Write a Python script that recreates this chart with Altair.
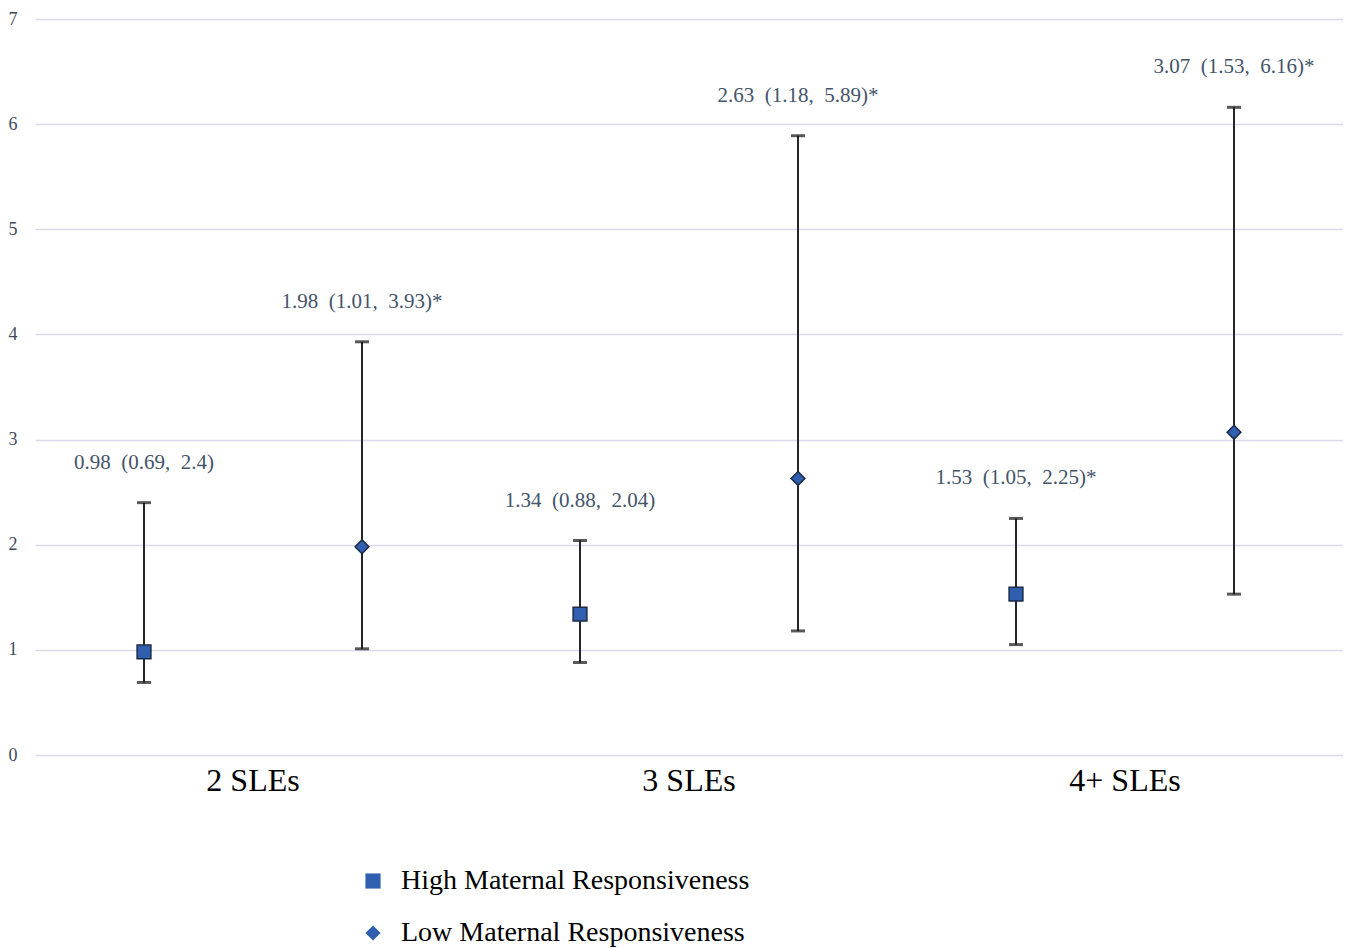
import altair as alt
import pandas as pd

categories = ["2 SLEs", "3 SLEs", "4+ SLEs"]
series = ["High Maternal Responsiveness", "Low Maternal Responsiveness"]

high_or = [0.98, 1.34, 1.53]
high_lo = [0.69, 0.88, 1.05]
high_hi = [2.4, 2.04, 2.25]
high_sig = [False, False, True]

low_or = [1.98, 2.63, 3.07]
low_lo = [1.01, 1.18, 1.53]
low_hi = [3.93, 5.89, 6.16]
low_sig = [True, True, True]

y_ticks = [0, 1, 2, 3, 4, 5, 6, 7]

SP = "\u2002"
rows = []
for s, ors, los, his, sigs in [
    (series[0], high_or, high_lo, high_hi, high_sig),
    (series[1], low_or, low_lo, low_hi, low_sig),
]:
    for c, o, l, h, g in zip(categories, ors, los, his, sigs):
        lab = f"{o:g}{SP}({l:g},{SP}{h:g})" + ("*" if g else "")
        rows.append({"cat": c, "series": s, "or": o, "lo": l, "hi": h, "label": lab})
df = pd.DataFrame(rows)

serif = "Liberation Serif"
blue = "#2f5fae"
yscale = alt.Scale(domain=[0, 7], nice=False)

x = alt.X("cat:N", sort=categories, title=None,
          scale=alt.Scale(paddingInner=0, paddingOuter=0),
          axis=alt.Axis(labelAngle=0, labelFont=serif, labelFontSize=32,
                        labelColor="#000000", labelPadding=10, ticks=False,
                        domain=False, grid=False))
xoff = alt.XOffset("series:N", sort=series,
                   scale=alt.Scale(paddingInner=0, paddingOuter=0))

y = alt.Y("or:Q", title=None, scale=yscale,
          axis=alt.Axis(values=y_ticks, format="d", labelFont=serif,
                        labelFontSize=18, labelColor="#3f4a5c", labelPadding=18,
                        ticks=False, domain=False, grid=True,
                        gridColor="#d9dbe9", gridWidth=1.5))

base = alt.Chart(df)

rules = base.mark_rule(color="#262626", strokeWidth=2).encode(
    x=x, xOffset=xoff, y=alt.Y("lo:Q", scale=yscale), y2="hi:Q")

cap_lo = base.mark_tick(color="#111111", thickness=3, size=14).encode(
    x=x, xOffset=xoff, y=alt.Y("lo:Q", scale=yscale))
cap_hi = base.mark_tick(color="#111111", thickness=3, size=14).encode(
    x=x, xOffset=xoff, y=alt.Y("hi:Q", scale=yscale))

points = base.mark_point(filled=True, size=190, stroke="#1c2a44",
                         strokeWidth=1.5, opacity=1).encode(
    x=x, xOffset=xoff, y=y,
    color=alt.Color("series:N", sort=series,
                    scale=alt.Scale(domain=series, range=[blue, blue]),
                    legend=alt.Legend(title=None, orient="none", legendX=324,
                                      legendY=848, direction="vertical",
                                      labelFont=serif, labelFontSize=28,
                                      labelColor="#000000", symbolSize=230,
                                      symbolStrokeWidth=0, rowPadding=24,
                                      labelOffset=14, labelLimit=700)),
    shape=alt.Shape("series:N", sort=series,
                    scale=alt.Scale(domain=series, range=["square", "diamond"])),
)

texts = base.mark_text(font=serif, fontSize=21, color="#44546a", dy=-40,
                       baseline="middle").encode(
    x=x, xOffset=xoff, y=alt.Y("hi:Q", scale=yscale),
    text="label:N")

chart = alt.layer(rules, cap_lo, cap_hi, points, texts).properties(
    width=1308, height=736, padding={"left": 0, "top": 2, "right": 0, "bottom": 0}
).configure_view(stroke=None)

chart.save("out.html", embed_options={"renderer": "svg", "actions": False})
